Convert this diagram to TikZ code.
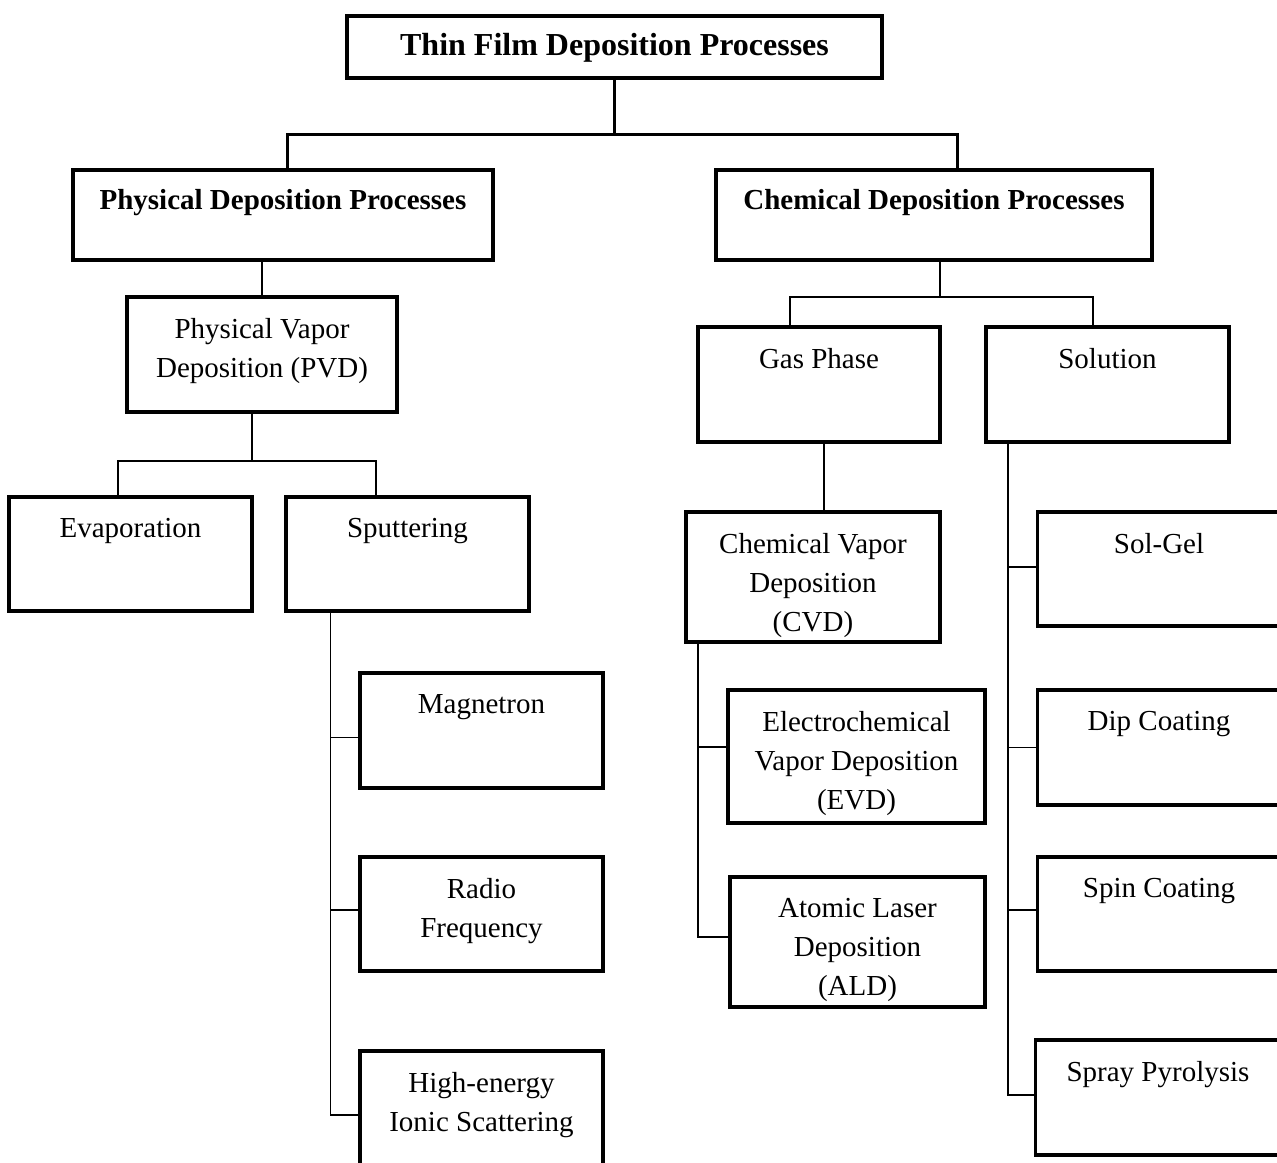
\documentclass[tikz,border=0pt]{standalone}
\usepackage{fontspec}
\setmainfont{Liberation Serif}
\usetikzlibrary{calc}

\begin{document}
\begin{tikzpicture}[x=0.5pt, y=-0.5pt,
  box/.style 2 args={draw, line width=1.75pt, inner sep=0pt, minimum width=#1*0.5pt, minimum height=#2*0.5pt},
  txt/.style={anchor=north, align=center, inner sep=0pt, label distance=-11.4pt, font=\fontsize{14.5}{19.5}\selectfont},
  hd/.style={txt, label distance=-10.3pt, font=\fontsize{14.5}{19.5}\selectfont\bfseries},
  ttl/.style={txt, label distance=-9.4pt, font=\fontsize{16}{19.5}\selectfont\bfseries},
  trunk/.style={line width=1.5pt},
  link/.style={line width=0.75pt}]
\useasboundingbox (0,0) rectangle (1277,1162);
\clip (0,0) rectangle (1277,1162);

% Top levels
\node[box={535}{62}, label={[ttl]north:Thin Film Deposition Processes}] (title) at (614.5,47) {};
\node[box={420}{90}, label={[hd]north:Physical Deposition Processes}] (phys) at (283,215) {};
\node[box={436}{90}, label={[hd]north:Chemical Deposition Processes}] (chem) at (934,215) {};

% Physical branch
\node[box={270}{115}, label={[txt]north:Physical Vapor\\Deposition (PVD)}] (pvd) at (262,354.5) {};
\node[box={243}{114}, label={[txt]north:Evaporation}] (evap) at (130.5,554) {};
\node[box={243}{114}, label={[txt]north:Sputtering}] (sput) at (407.5,554) {};
\node[box={243}{115}, label={[txt]north:Magnetron}] (magn) at (481.5,730.5) {};
\node[box={243}{114}, label={[txt]north:Radio\\Frequency}] (radio) at (481.5,914) {};
\node[box={243}{119}, label={[txt]north:High-energy\\Ionic Scattering}] (hien) at (481.5,1110.5) {};

% Chemical branch
\node[box={242}{115}, label={[txt]north:Gas Phase}] (gas) at (819,384.5) {};
\node[box={243}{115}, label={[txt]north:Solution}] (soln) at (1107.5,384.5) {};
\node[box={254}{130}, label={[txt]north:Chemical Vapor\\Deposition\\(CVD)}] (cvd) at (813,577) {};
\node[box={257}{133}, label={[txt]north:Electrochemical\\Vapor Deposition\\(EVD)}] (evd) at (856.5,756.5) {};
\node[box={255}{130}, label={[txt]north:Atomic Laser\\Deposition\\(ALD)}] (ald) at (857.5,942) {};
\node[box={243}{114}, label={[txt]north:Sol-Gel}] (solgel) at (1159,569) {};
\node[box={243}{115}, label={[txt]north:Dip Coating}] (dip) at (1159,747.5) {};
\node[box={243}{114}, label={[txt]north:Spin Coating}] (spin) at (1159,914) {};
\node[box={245}{115}, label={[txt]north:Spray Pyrolysis}] (spray) at (1158,1097.5) {};

% Connectors
\draw[trunk] (title.south) -- ++(0,55) coordinate (tj);
\draw[trunk] ($(phys.north)+(4,0)$) |- (tj) -| ($(chem.north)+(23,0)$);

\draw[link] (pvd.north) -- (pvd.north |- phys.south);
\draw[link] ($(pvd.south)+(-10,0)$) -- ++(0,47) coordinate (pj);
\draw[link] ($(evap.north)+(-12.5,0)$) |- (pj) -| ($(sput.north)+(-31.5,0)$);
\draw[link] ($(sput.south west)+(46,0)$) coordinate (ss) -- ++(0,502);
\foreach \n/\d in {magn/7, radio/-4, hien/4.5}
  \draw[link] ($(\n.west)+(0,\d)$) -| (ss);

\draw[link] ($(chem.south)+(6,0)$) -- ++(0,35.25) coordinate (cj);
\draw[link] ($(gas.north)+(-29,0)$) |- (cj) -| ($(soln.north)+(-14.5,0)$);
\draw[link] ($(gas.south)+(5,0)$) -- ($(cvd.north)+(11,0)$);
\draw[link] ($(cvd.south west)+(13.75,0)$) coordinate (cs) -- ++(0,293);
\foreach \n/\d in {evd/-9.5, ald/-5}
  \draw[link] ($(\n.west)+(0,\d)$) -| (cs);
\draw[link] ($(soln.south west)+(23.75,0)$) coordinate (so) -- ++(0,651.25);
\foreach \n/\d in {solgel/-2, dip/0, spin/-4, spray/-2.5}
  \draw[link] ($(\n.west)+(0,\d)$) -| (so);
\end{tikzpicture}
\end{document}
